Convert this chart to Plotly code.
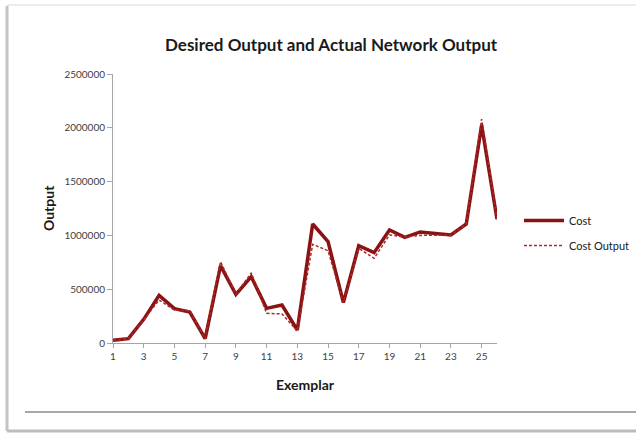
import plotly.graph_objects as go

exemplar = list(range(1, 27))
cost = [25000, 40000, 220000, 443000, 319000, 288000, 40000, 718000, 452000, 616000,
        322000, 353000, 121000, 1106000, 942000, 375000, 905000, 840000, 1050000, 982000,
        1032000, 1016000, 1004000, 1106000, 2026000, 1150000]
cost_output = [25000, 40000, 215000, 400000, 305000, 300000, 40000, 756000, 452000, 652000,
               276000, 270000, 110000, 917000, 858000, 375000, 880000, 787000, 1004000, 985000,
               1000000, 1005000, 1004000, 1106000, 2080000, 1150000]
x_ticks = list(range(1, 27, 2))
y_ticks = [0, 500000, 1000000, 1500000, 2000000, 2500000]

RED = "#8B1212"
FONT = "Lato"

fig = go.Figure()
fig.add_trace(go.Scatter(x=exemplar, y=cost, mode="lines", name="Cost", legendgroup="a",
                         line=dict(color=RED, width=3.5)))
fig.add_trace(go.Scatter(x=exemplar, y=cost_output, mode="lines", name="Cost Output",
                         legendgroup="b",
                         line=dict(color="#A82A2A", width=1.5, dash="3px,2px")))

W, H = 636, 437
L, R, T, B = 113, 497, 74, 343
pw, ph = R - L, B - T

def px(x):
    return (x - L) / pw

def py(y):
    return (B - y) / ph

shapes = [
    # frame with shadow
    dict(type="line", xref="paper", yref="paper", x0=px(7), x1=px(7), y0=py(6), y1=py(431),
         line=dict(color="#c4c4c4", width=3)),
    dict(type="line", xref="paper", yref="paper", x0=px(7), x1=px(640), y0=py(5), y1=py(5),
         line=dict(color="#ececec", width=2)),
    dict(type="line", xref="paper", yref="paper", x0=px(7), x1=px(640), y0=py(431), y1=py(431),
         line=dict(color="#bdbdbd", width=3)),
    dict(type="line", xref="paper", yref="paper", x0=px(25), x1=px(640), y0=py(412), y1=py(412),
         line=dict(color="#a8a8a8", width=2)),
]

fig.update_layout(
    width=W, height=H,
    margin=dict(l=L, r=W - R, t=T, b=H - B, pad=0, autoexpand=False),
    paper_bgcolor="white", plot_bgcolor="white",
    font=dict(family=FONT, size=10, color="#404040"),
    showlegend=True,
    legend=dict(x=px(519), y=py(233), xanchor="left", yanchor="middle",
                font=dict(family=FONT, size=11, color="#202020"),
                bgcolor="rgba(0,0,0,0)", tracegroupgap=6, itemwidth=40),
    shapes=shapes,
    annotations=[
        dict(text="<b>Desired Output and Actual Network Output</b>", xref="paper", yref="paper",
             x=px(331), y=py(44), xanchor="center", yanchor="middle", showarrow=False,
             font=dict(family=FONT, size=17, color="#1a1a1a")),
        dict(text="<b>Exemplar</b>", xref="paper", yref="paper",
             x=px(305), y=py(384), xanchor="center", yanchor="middle", showarrow=False,
             font=dict(family=FONT, size=14, color="#1a1a1a")),
        dict(text="<b>Output</b>", xref="paper", yref="paper", textangle=-90,
             x=px(48), y=py(208), xanchor="center", yanchor="middle", showarrow=False,
             font=dict(family=FONT, size=14, color="#1a1a1a")),
    ],
)
fig.update_xaxes(range=[1, 26], tickvals=x_ticks, ticktext=[str(v) for v in x_ticks],
                 showgrid=False, zeroline=False, showline=True, linecolor="#a6a6a6", linewidth=1,
                 ticks="outside", ticklen=4, tickcolor="#a6a6a6",
                 tickfont=dict(family=FONT, size=10, color="#404040"))
fig.update_yaxes(range=[0, 2500000], tickvals=y_ticks, ticktext=[str(v) for v in y_ticks],
                 showgrid=False, zeroline=False, showline=True, linecolor="#a6a6a6", linewidth=1,
                 ticks="outside", ticklen=5, tickcolor="#a6a6a6",
                 tickfont=dict(family=FONT, size=10, color="#404040"))

fig.write_html("out.html", config={"displayModeBar": False},
               post_script="document.body.style.margin='0px';document.body.style.overflow='hidden';")
